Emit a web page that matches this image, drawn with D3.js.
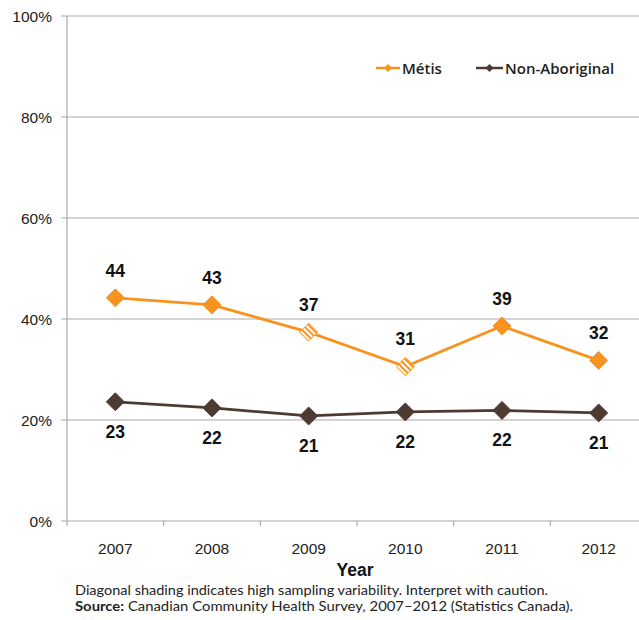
<!DOCTYPE html>
<html><head><meta charset="utf-8">
<script src="https://cdn.jsdelivr.net/npm/d3@7"></script>
<style>body{margin:0;background:#fff}svg{display:block}</style>
</head><body>
<script>
const years = ["2007","2008","2009","2010","2011","2012"];
const metis = [44.2, 42.8, 37.4, 30.6, 38.6, 31.8];
const metisLabels = ["44","43","37","31","39","32"];
const metisHatched = [false, false, true, true, false, false];
const nonAbo = [23.6, 22.4, 20.8, 21.6, 21.9, 21.4];
const nonAboLabels = ["23","22","21","22","22","21"];
const yTicks = [0, 20, 40, 60, 80, 100];
const seriesNames = ["Métis", "Non-Aboriginal"];

const W = 639, H = 620;
const orange = "#F7931E", brown = "#4D3B33";
const svg = d3.select("body").append("svg").attr("width", W).attr("height", H);

const defs = svg.append("defs");
const pat = defs.append("pattern").attr("id","hatch").attr("patternUnits","userSpaceOnUse")
  .attr("width",4).attr("height",4).attr("patternTransform","rotate(-45)");
pat.append("rect").attr("width",4).attr("height",4).attr("fill","#fff");
pat.append("rect").attr("width",2).attr("height",4).attr("fill",orange);

const x = d3.scaleBand().domain(years).range([67, 647]);
const y = d3.scaleLinear().domain([0, 100]).range([521, 16]);
const axFont = "Liberation Sans, Arial, sans-serif";

// gridlines
svg.append("g").selectAll("line").data(yTicks).join("line")
  .attr("x1", 61).attr("x2", W).attr("y1", d => y(d)).attr("y2", d => y(d))
  .attr("stroke", "#a9a9a9").attr("stroke-width", 1.2);
// y axis line
svg.append("line").attr("x1",67).attr("x2",67).attr("y1",y(100)).attr("y2",y(0))
  .attr("stroke","#a9a9a9").attr("stroke-width",1.2);
// y tick labels
svg.append("g").selectAll("text").data(yTicks).join("text")
  .attr("x", 52).attr("y", d => y(d) + 5.5).attr("text-anchor","end")
  .attr("font-family",axFont).attr("font-size",15.5)
  .attr("fill","#222").text(d => d + "%");
// x ticks at band boundaries
const bounds = years.map(d => x(d)).concat([x(years[5]) + x.bandwidth()]);
svg.append("g").selectAll("line").data(bounds.filter(b => b <= W)).join("line")
  .attr("x1", d => d).attr("x2", d => d).attr("y1", y(0)).attr("y2", y(0) + 5)
  .attr("stroke","#a9a9a9").attr("stroke-width",1.2);
// x labels
svg.append("g").selectAll("text").data(years).join("text")
  .attr("x", d => x(d) + x.bandwidth()/2).attr("y", 554).attr("text-anchor","middle")
  .attr("font-family",axFont).attr("font-size",15.5)
  .attr("fill","#222").text(d => d);
svg.append("text").attr("x", 355).attr("y", 576).attr("text-anchor","middle")
  .attr("font-family",axFont).attr("font-size",17.5)
  .attr("font-weight","bold").attr("fill","#111").text("Year");

const cx = i => x(years[i]) + x.bandwidth()/2;
const line = d3.line().x((d,i) => cx(i)).y(d => y(d));
const diamond = (s) => `M0,${-s}L${s},0L0,${s}L${-s},0Z`;

function drawSeries(vals, color, hatched) {
  svg.append("path").datum(vals).attr("d", line).attr("fill","none")
    .attr("stroke", color).attr("stroke-width", 2.8);
  svg.append("g").selectAll("path").data(vals).join("path")
    .attr("transform", (d,i) => `translate(${cx(i)},${y(d)})`)
    .attr("d", diamond(9))
    .attr("fill", (d,i) => hatched && hatched[i] ? "url(#hatch)" : color)
    .attr("stroke", color).attr("stroke-width", 1);
}
drawSeries(metis, orange, metisHatched);
drawSeries(nonAbo, brown, null);

svg.append("g").selectAll("text").data(metis).join("text")
  .attr("x", (d,i) => cx(i)).attr("y", d => y(d) - 21).attr("text-anchor","middle")
  .attr("font-family", axFont).attr("font-size",17.5).attr("font-weight","bold")
  .attr("fill","#111").text((d,i) => metisLabels[i]);
svg.append("g").selectAll("text").data(nonAbo).join("text")
  .attr("x", (d,i) => cx(i)).attr("y", d => y(d) + 36).attr("text-anchor","middle")
  .attr("font-family", axFont).attr("font-size",17.5).attr("font-weight","bold")
  .attr("fill","#111").text((d,i) => nonAboLabels[i]);

// legend
const leg = [{n: seriesNames[0], c: orange, x: 376, w: 24}, {n: seriesNames[1], c: brown, x: 476, w: 27}];
leg.forEach(l => {
  const g = svg.append("g");
  g.append("line").attr("x1", l.x).attr("x2", l.x + l.w).attr("y1", 68).attr("y2", 68)
    .attr("stroke", l.c).attr("stroke-width", 2.5);
  g.append("path").attr("transform", `translate(${l.x + l.w/2},68)`).attr("d", diamond(4)).attr("fill", l.c);
  g.append("text").attr("x", l.x + l.w + 2).attr("y", 73.5)
    .attr("font-family","'Open Sans', Lato, sans-serif").attr("font-size",15).attr("font-weight",600)
    .attr("fill","#222").text(l.n);
});

// footnote
const fn = svg.append("g").attr("font-family","Lato, 'Open Sans', sans-serif").attr("font-size",14).attr("fill","#222");
fn.append("text").attr("x", 75).attr("y", 595).attr("textLength", 473).attr("lengthAdjust","spacingAndGlyphs")
  .text("Diagonal shading indicates high sampling variability. Interpret with caution.");
const t2 = fn.append("text").attr("x", 75).attr("y", 611).attr("textLength", 498).attr("lengthAdjust","spacingAndGlyphs");
t2.append("tspan").attr("font-weight","bold").text("Source:");
t2.append("tspan").text(" Canadian Community Health Survey, 2007–2012 (Statistics Canada).");
</script>
</body></html>
